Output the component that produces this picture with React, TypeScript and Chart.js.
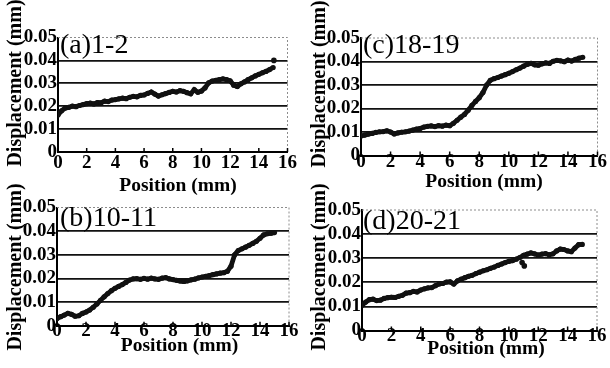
import { useEffect, useRef } from "react";
import { Chart, registerables } from "chart.js";

Chart.register(...registerables);

// Sampling positions along the specimen (mm)
const POSITION_MM = [
  0, 0.25, 0.5, 0.75, 1, 1.25, 1.5, 1.75, 2, 2.25,
  2.5, 2.75, 3, 3.25, 3.5, 3.75, 4, 4.25, 4.5, 4.75,
  5, 5.25, 5.5, 5.75, 6, 6.25, 6.5, 6.75, 7, 7.25,
  7.5, 7.75, 8, 8.25, 8.5, 8.75, 9, 9.25, 9.5, 9.75,
  10, 10.25, 10.5, 10.75, 11, 11.25, 11.5, 11.75, 12, 12.25,
  12.5, 12.75, 13, 13.25, 13.5, 13.75, 14, 14.25, 14.5, 14.75,
  15,
];

// Displacement (mm) for each joint pair
const DISP_1_2 = [
  0.0162, 0.018, 0.0192, 0.0195, 0.02, 0.0198, 0.0203, 0.0207, 0.0211, 0.0213,
  0.021, 0.0216, 0.0215, 0.0222, 0.022, 0.0227, 0.0229, 0.0232, 0.0235, 0.0233,
  0.0239, 0.0243, 0.0241, 0.0247, 0.0249, 0.0256, 0.0262, 0.0253, 0.0244, 0.025,
  0.0255, 0.026, 0.0265, 0.0262, 0.0268, 0.0265, 0.0259, 0.0254, 0.0272, 0.0261,
  0.0266, 0.028, 0.0302, 0.031, 0.0313, 0.0316, 0.0319, 0.0316, 0.0311, 0.0292,
  0.0286, 0.0298, 0.0306, 0.0316, 0.0324, 0.0332, 0.0339, 0.0346, 0.0352, 0.036,
  0.0369,
];
const DISP_10_11 = [
  0.003, 0.0038, 0.0045, 0.0052, 0.0048, 0.004, 0.0042, 0.0052, 0.0058, 0.0066,
  0.0078, 0.0092, 0.0107, 0.0122, 0.0136, 0.0148, 0.0158, 0.0166, 0.0174, 0.0183,
  0.0193, 0.0198, 0.0199, 0.0196, 0.02, 0.0197, 0.0201, 0.0198, 0.0196, 0.0201,
  0.0203, 0.0198, 0.0195, 0.0192, 0.0189, 0.0187, 0.019, 0.0194, 0.0197, 0.0202,
  0.0206, 0.0209, 0.0212, 0.0216, 0.0219, 0.0222, 0.0224, 0.023, 0.0252, 0.03,
  0.0318, 0.0325, 0.0332, 0.034, 0.0348, 0.0357, 0.037, 0.0384, 0.0389, 0.0391,
  0.0394,
];
const DISP_18_19 = [
  0.0083, 0.0087, 0.0091, 0.0094, 0.0098, 0.0101, 0.0102, 0.0105, 0.01, 0.0092,
  0.0096, 0.0099, 0.0101, 0.0104, 0.0108, 0.0112, 0.0115, 0.0121, 0.0124, 0.0126,
  0.0123, 0.0127, 0.0125, 0.0129, 0.0127, 0.0137, 0.015, 0.0163, 0.0175, 0.0193,
  0.0213, 0.023, 0.0246, 0.0268, 0.03, 0.032, 0.0327, 0.0332, 0.0338, 0.0344,
  0.035, 0.0357, 0.0365, 0.0372, 0.038, 0.0388, 0.0392, 0.0386, 0.0384, 0.039,
  0.0394, 0.0392, 0.0401, 0.0405, 0.0403, 0.0399, 0.0406, 0.0402, 0.0409, 0.0414,
  0.0418,
];
const DISP_20_21 = [
  0.0105, 0.0118, 0.0128, 0.013, 0.0124, 0.0126, 0.0133, 0.0136, 0.0138, 0.0137,
  0.0142, 0.0146, 0.0155, 0.0157, 0.0162, 0.016, 0.0168, 0.0173, 0.0177, 0.0178,
  0.0186, 0.0193, 0.0195, 0.0201, 0.0202, 0.0193, 0.0206, 0.0213, 0.0219, 0.0225,
  0.0229, 0.0236, 0.0242, 0.0248, 0.0252, 0.0258, 0.0263, 0.027, 0.0276, 0.0282,
  0.0287, 0.029, 0.0296, 0.0303, 0.0312, 0.0317, 0.0322, 0.0318, 0.0313, 0.0317,
  0.0319, 0.0314, 0.0318, 0.033, 0.0338, 0.0336, 0.033, 0.0327, 0.0342, 0.0356,
  0.0357,
];

// Isolated readings: [position, displacement]
const STRAY_1_2 = [[15.05, 0.04]];
const STRAY_10_11: number[][] = [];
const STRAY_18_19: number[][] = [];
const STRAY_20_21 = [[10.9, 0.0282], [11.05, 0.0268]];

const X_TICK_MARKS = [2, 4, 6, 8, 10, 12, 14, 16];
const PANEL_LABELS = ["(a)1-2", "(b)10-11", "(c)18-19", "(d)20-21"];
const X_TITLE = "Position (mm)";
const Y_TITLE = "Displacement (mm)";

// Page / layout
const W = 610;
const H = 368;
const Y_AXIS_W = 42;
const X_AXIS_H = 26;
const SERIF = "'Liberation Serif', 'Times New Roman', 'DejaVu Serif', serif";
const TICK_FONT = { family: SERIF, size: 19, weight: "bold" as const, lineHeight: 1 };

type Panel = {
  label: string;
  values: number[];
  stray: number[][];
  area: { left: number; right: number; top: number; bottom: number };
  tickLabelDy: number;
  xTitleAt: [number, number];
  yTitleAt: [number, number];
  labelAt: [number, number];
};

const PANELS: Panel[] = [
  {
    label: PANEL_LABELS[0],
    values: DISP_1_2,
    stray: STRAY_1_2,
    area: { left: 58, right: 287.5, top: 37.5, bottom: 152 },
    tickLabelDy: 11.3,
    xTitleAt: [178, 186],
    yTitleAt: [15.5, 83],
    labelAt: [60, 53],
  },
  {
    label: PANEL_LABELS[1],
    values: DISP_10_11,
    stray: STRAY_10_11,
    area: { left: 57, right: 289, top: 207.5, bottom: 325.7 },
    tickLabelDy: 5.8,
    xTitleAt: [179.5, 345.5],
    yTitleAt: [15.5, 267],
    labelAt: [60, 226],
  },
  {
    label: PANEL_LABELS[2],
    values: DISP_18_19,
    stray: STRAY_18_19,
    area: { left: 361, right: 597.5, top: 38, bottom: 155.5 },
    tickLabelDy: 7,
    xTitleAt: [484, 181.5],
    yTitleAt: [319.5, 84],
    labelAt: [363, 53],
  },
  {
    label: PANEL_LABELS[3],
    values: DISP_20_21,
    stray: STRAY_20_21,
    area: { left: 362, right: 597, top: 210, bottom: 330.5 },
    tickLabelDy: 5.5,
    xTitleAt: [486, 349],
    yTitleAt: [319.5, 267],
    labelAt: [363, 229],
  },
];

// Dotted frame, inward x tick marks, x tick labels, axis titles and panel caption
const panelDecor = {
  id: "panelDecor",
  beforeDatasetsDraw(chart: any) {
    const { ctx, chartArea } = chart;
    const { left, right, top, bottom } = chartArea;
    const xs = chart.scales.x;
    ctx.save();
    ctx.strokeStyle = "#8c8c8c";
    ctx.lineWidth = 1;
    ctx.setLineDash([2, 2]);
    ctx.beginPath();
    ctx.moveTo(left, top);
    ctx.lineTo(right, top);
    ctx.lineTo(right, bottom);
    ctx.stroke();
    ctx.setLineDash([]);
    ctx.strokeStyle = "#000";
    ctx.lineWidth = 1.5;
    ctx.beginPath();
    for (const t of X_TICK_MARKS) {
      const px = xs.getPixelForValue(t);
      ctx.moveTo(px, bottom);
      ctx.lineTo(px, bottom - 4);
    }
    ctx.stroke();
    ctx.restore();
  },
  afterDraw(chart: any, _args: any, opts: any) {
    const { ctx, chartArea } = chart;
    const xs = chart.scales.x;
    ctx.save();
    ctx.fillStyle = "#000";
    ctx.font = `bold 19px ${SERIF}`;
    ctx.textAlign = "center";
    ctx.textBaseline = "middle";
    for (const tick of xs.ticks) {
      ctx.fillText(String(tick.value), xs.getPixelForValue(tick.value), chartArea.bottom + opts.tickLabelDy);
    }
    ctx.font = `bold 19.5px ${SERIF}`;
    ctx.fillText(X_TITLE, opts.xTitleAt[0], opts.xTitleAt[1]);
    ctx.save();
    ctx.translate(opts.yTitleAt[0], opts.yTitleAt[1]);
    ctx.rotate(-Math.PI / 2);
    ctx.font = `bold 20px ${SERIF}`;
    ctx.fillText(Y_TITLE, 0, 0);
    ctx.restore();
    ctx.font = `28px ${SERIF}`;
    ctx.textAlign = "left";
    ctx.textBaseline = "alphabetic";
    ctx.fillText(opts.label, opts.labelAt[0], opts.labelAt[1]);
    ctx.restore();
  },
};

function PanelChart({ panel }: { panel: Panel }) {
  const ref = useRef<HTMLCanvasElement>(null);

  useEffect(() => {
    const canvas = ref.current;
    if (!canvas) return;
    const { left, right, top, bottom } = panel.area;
    const chart = new Chart(canvas, {
      type: "scatter",
      data: {
        datasets: [
          {
            data: POSITION_MM.map((x, i) => ({ x, y: panel.values[i] })),
            showLine: true,
            borderColor: "#111",
            backgroundColor: "#111",
            borderWidth: 4.8,
            pointRadius: 2.6,
            pointBorderWidth: 0,
          },
          {
            data: panel.stray.map(([x, y]) => ({ x, y })),
            showLine: false,
            backgroundColor: "#111",
            pointRadius: 2.8,
            pointBorderWidth: 0,
          },
        ],
      },
      options: {
        responsive: false,
        animation: false,
        devicePixelRatio: 1,
        layout: {
          padding: {
            left: left - Y_AXIS_W,
            top,
            right: W - right,
            bottom: H - bottom - X_AXIS_H,
          },
        },
        plugins: {
          legend: { display: false },
          tooltip: { enabled: false },
          panelDecor: {
            label: panel.label,
            tickLabelDy: panel.tickLabelDy,
            xTitleAt: panel.xTitleAt,
            yTitleAt: panel.yTitleAt,
            labelAt: panel.labelAt,
          },
        } as any,
        scales: {
          x: {
            type: "linear",
            min: 0,
            max: 16,
            afterFit(s: any) {
              s.height = X_AXIS_H;
            },
            ticks: {
              stepSize: 2,
              autoSkip: false,
              maxRotation: 0,
              display: false,
              font: TICK_FONT,
            },
            grid: { display: false, drawTicks: false },
            border: { display: true, color: "#000", width: 2 },
          },
          y: {
            type: "linear",
            min: 0,
            max: 0.05,
            afterFit(s: any) {
              s.width = Y_AXIS_W;
            },
            ticks: {
              stepSize: 0.01,
              autoSkip: false,
              padding: 1,
              color: "#000",
              font: TICK_FONT,
              callback: (v: any) => (Number(v) === 0 ? "0" : Number(v).toFixed(2)),
            },
            grid: {
              drawTicks: false,
              lineWidth: 1.8,
              color: (c: any) =>
                c.tick && c.tick.value > 0.001 && c.tick.value < 0.049 ? "#111" : "rgba(0,0,0,0)",
            },
            border: { display: true, color: "#000", width: 2 },
          },
        },
      },
      plugins: [panelDecor],
    });
    return () => chart.destroy();
  }, [panel]);

  return (
    <canvas
      ref={ref}
      width={W}
      height={H}
      style={{ position: "absolute", left: 0, top: 0, width: W, height: H, display: "block" }}
    />
  );
}

export default function App() {
  return (
    <div
      style={{
        position: "fixed",
        left: 0,
        top: 0,
        width: W,
        height: H,
        background: "#fff",
        overflow: "hidden",
      }}
    >
      {PANELS.map((p) => (
        <PanelChart key={p.label} panel={p} />
      ))}
    </div>
  );
}
